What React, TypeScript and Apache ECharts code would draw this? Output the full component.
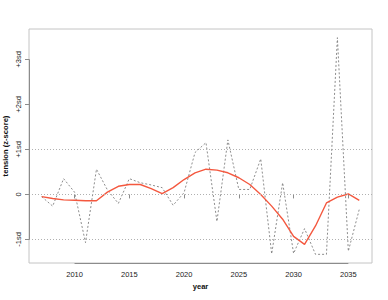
import React, { useEffect, useRef } from "react";
import * as echarts from "echarts";

const years = [2007, 2008, 2009, 2010, 2011, 2012, 2013, 2014, 2015, 2016, 2017, 2018, 2019, 2020, 2021, 2022, 2023, 2024, 2025, 2026, 2027, 2028, 2029, 2030, 2031, 2032, 2033, 2034, 2035, 2036];
const rawTension = [-0.05, -0.26, 0.35, 0.05, -1.07, 0.56, 0.1, -0.2, 0.35, 0.26, 0.21, 0.15, -0.24, 0.04, 0.93, 1.15, -0.6, 1.21, 0.11, 0.11, 0.79, -1.32, 0.26, -1.31, -0.76, -1.33, -1.33, 3.48, -1.26, -0.33];
const smoothTension = [-0.05, -0.09, -0.12, -0.13, -0.14, -0.14, 0.05, 0.18, 0.22, 0.22, 0.13, 0.02, 0.15, 0.33, 0.48, 0.56, 0.54, 0.48, 0.37, 0.22, 0.0, -0.26, -0.55, -0.93, -1.11, -0.7, -0.19, -0.06, 0.01, -0.13];
const xTicks = [2010, 2015, 2020, 2025, 2030, 2035];
const yTicks = [-1, 0, 1, 2, 3];
const yTickLabels = ["-1sd", "0", "+1sd", "+2sd", "+3sd"];
const refLines = [-1, 0, 1];

const FONT = "Liberation Sans, Arial, sans-serif";

export default function App() {
  const ref = useRef<HTMLDivElement>(null);
  useEffect(() => {
    if (!ref.current) return;
    const chart = echarts.init(ref.current, null, { renderer: "svg" });
    const xr = years[years.length - 1] - years[0];
    const xMin = years[0] - 0.04 * xr;
    const xMax = years[years.length - 1] + 0.04 * xr;
    const all = rawTension.concat(smoothTension);
    const lo = Math.min(...all);
    const hi = Math.max(...all);
    const yr = hi - lo;
    const yMin = lo - 0.04 * yr;
    const yMax = hi + 0.04 * yr;
    const axisColor = "#8c8c8c";
    const labelMap: Record<string, string> = {};
    yTicks.forEach((v, i) => (labelMap[String(v)] = yTickLabels[i]));

    chart.setOption({
      animation: false,
      grid: {
        left: 29,
        top: 29,
        right: 16,
        bottom: 37,
        show: true,
        containLabel: false,
        outerBoundsMode: "none",
        borderColor: "#c4c4c4",
        borderWidth: 1,
        backgroundColor: "transparent",
      },
      xAxis: {
        type: "value",
        min: xMin,
        max: xMax,
        axisLine: { show: false },
        splitLine: { show: false },
        axisTick: {
          show: true,
          customValues: xTicks,
          length: 4,
          lineStyle: { color: axisColor },
        },
        axisLabel: {
          customValues: xTicks,
          fontFamily: FONT,
          fontSize: 7.5,
          color: "#222",
          margin: 7,
          formatter: (v: number) => String(Math.round(v)),
        },
        name: "year",
        nameLocation: "middle",
        nameGap: 19,
        nameMoveOverlap: false,
        nameTextStyle: { fontFamily: FONT, fontSize: 7.6, fontWeight: "bold", color: "#111" },
      },
      yAxis: {
        type: "value",
        min: yMin,
        max: yMax,
        axisLine: { show: false },
        splitLine: { show: false },
        axisTick: {
          show: true,
          customValues: yTicks,
          length: 4,
          lineStyle: { color: axisColor },
        },
        axisLabel: {
          customValues: yTicks,
          rotate: 90,
          fontFamily: FONT,
          fontSize: 7.5,
          color: "#222",
          margin: 7,
          formatter: (v: number) => labelMap[String(Math.round(v))] ?? "",
        },
        name: "tension (z-score)",
        nameLocation: "middle",
        nameRotate: 90,
        nameGap: 20,
        nameMoveOverlap: false,
        nameTextStyle: { fontFamily: FONT, fontSize: 7.6, fontWeight: "bold", color: "#111" },
      },
      series: [
        {
          type: "line",
          data: [],
          silent: true,
          markLine: {
            silent: true,
            symbol: "none",
            label: { show: false },
            lineStyle: { color: "#b0b0b0", type: [1, 2], width: 1 },
            data: refLines.map((v) => ({ yAxis: v })),
          },
        },
        {
          type: "line",
          data: [],
          silent: true,
          markLine: {
            silent: true,
            symbol: "none",
            label: { show: false },
            lineStyle: { color: axisColor, type: "solid", width: 1 },
            data: [
              [{ coord: [xTicks[0], yMin] }, { coord: [xTicks[xTicks.length - 1], yMin] }],
              [{ coord: [xMin, yTicks[0]] }, { coord: [xMin, yTicks[yTicks.length - 1]] }],
            ],
          },
        },
        {
          type: "line",
          data: years.map((y, i) => [y, rawTension[i]]),
          showSymbol: false,
          lineStyle: { color: "#808080", width: 0.9, type: [2, 2] },
        },
        {
          type: "line",
          data: years.map((y, i) => [y, smoothTension[i]]),
          showSymbol: false,
          smooth: false,
          lineStyle: { color: "#f4583f", width: 1.4 },
        },
      ],
    });
    return () => chart.dispose();
  }, []);
  return (
    <div
      ref={ref}
      style={{ position: "fixed", left: 0, top: 0, width: 388, height: 300, background: "#fff" }}
    />
  );
}
